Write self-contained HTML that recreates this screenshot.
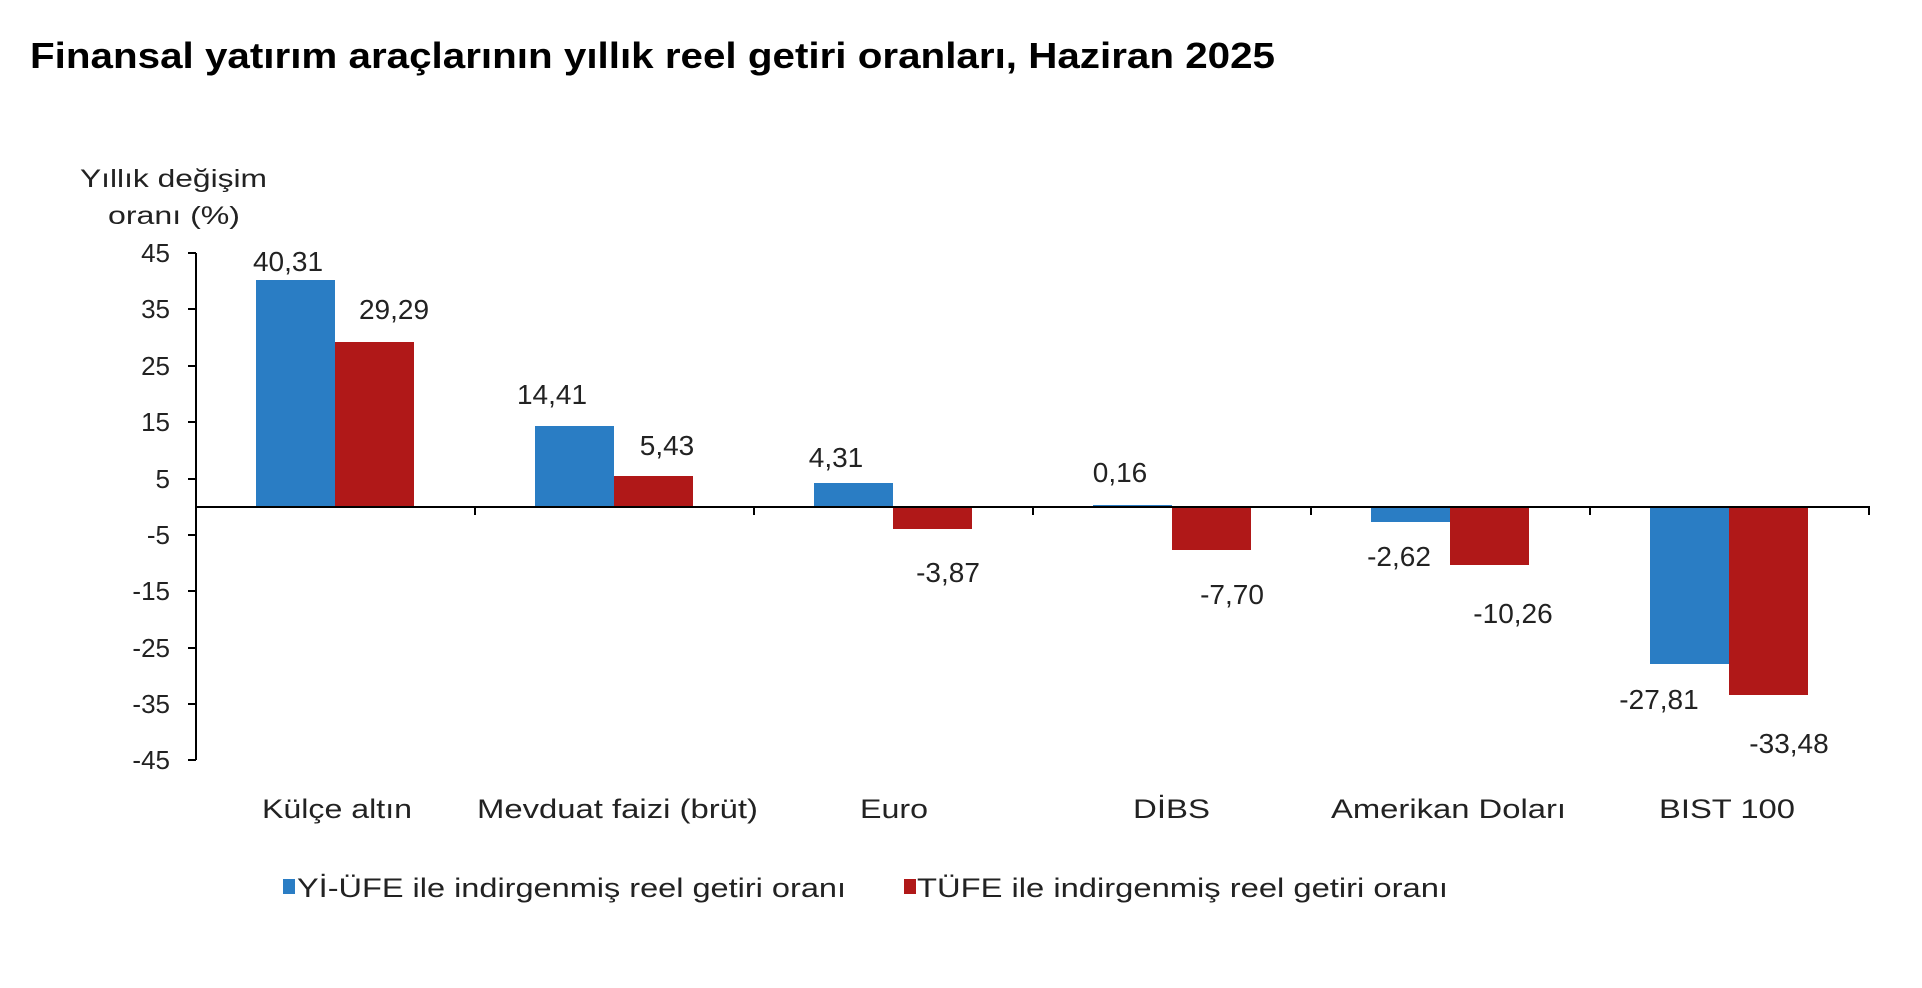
<!DOCTYPE html>
<html><head><meta charset="utf-8"><style>
html,body{margin:0;padding:0;background:#fff;}
svg{display:block;font-family:"Liberation Sans",Arial,sans-serif;}
</style></head><body>
<svg width="1922" height="988" viewBox="0 0 1922 988" xmlns="http://www.w3.org/2000/svg">
<rect width="1922" height="988" fill="#fff"/>
<text x="30" y="68" font-size="36" font-weight="bold" fill="#000" textLength="1245" lengthAdjust="spacingAndGlyphs">Finansal yatırım araçlarının yıllık reel getiri oranları, Haziran 2025</text>
<g fill="#222" font-size="25">
<text x="80" y="187" textLength="187" lengthAdjust="spacingAndGlyphs">Yıllık değişim</text>
<text x="108" y="224" textLength="132" lengthAdjust="spacingAndGlyphs">oranı (%)</text>
</g>
<g>
<rect x="256" y="280" width="79" height="227" fill="#2a7dc4"/>
<rect x="335" y="342" width="79" height="165" fill="#b01818"/>
<rect x="535" y="426" width="79" height="81" fill="#2a7dc4"/>
<rect x="614" y="476" width="79" height="31" fill="#b01818"/>
<rect x="814" y="483" width="79" height="24" fill="#2a7dc4"/>
<rect x="893" y="507" width="79" height="22" fill="#b01818"/>
<rect x="1093" y="505" width="79" height="2" fill="#2a7dc4"/>
<rect x="1172" y="507" width="79" height="43" fill="#b01818"/>
<rect x="1371" y="507" width="79" height="15" fill="#2a7dc4"/>
<rect x="1450" y="507" width="79" height="58" fill="#b01818"/>
<rect x="1650" y="507" width="79" height="157" fill="#2a7dc4"/>
<rect x="1729" y="507" width="79" height="188" fill="#b01818"/>
</g>
<g stroke="#000" stroke-width="2" fill="none">
<line x1="196" y1="253" x2="196" y2="760"/>
<line x1="196" y1="507" x2="1870" y2="507"/>
<line x1="188" y1="253" x2="196" y2="253"/>
<line x1="188" y1="309" x2="196" y2="309"/>
<line x1="188" y1="366" x2="196" y2="366"/>
<line x1="188" y1="422" x2="196" y2="422"/>
<line x1="188" y1="479" x2="196" y2="479"/>
<line x1="188" y1="535" x2="196" y2="535"/>
<line x1="188" y1="591" x2="196" y2="591"/>
<line x1="188" y1="648" x2="196" y2="648"/>
<line x1="188" y1="704" x2="196" y2="704"/>
<line x1="188" y1="760" x2="196" y2="760"/>
<line x1="475" y1="507" x2="475" y2="515"/>
<line x1="754" y1="507" x2="754" y2="515"/>
<line x1="1033" y1="507" x2="1033" y2="515"/>
<line x1="1311" y1="507" x2="1311" y2="515"/>
<line x1="1590" y1="507" x2="1590" y2="515"/>
<line x1="1869" y1="507" x2="1869" y2="515"/>
</g>
<g font-size="26" fill="#222" text-anchor="end">
<text x="170" y="262">45</text>
<text x="170" y="318">35</text>
<text x="170" y="375">25</text>
<text x="170" y="431">15</text>
<text x="170" y="488">5</text>
<text x="170" y="544">-5</text>
<text x="170" y="600">-15</text>
<text x="170" y="657">-25</text>
<text x="170" y="713">-35</text>
<text x="170" y="769">-45</text>
</g>
<g font-size="28" fill="#222" text-anchor="middle">
<text x="288" y="271">40,31</text>
<text x="394" y="319">29,29</text>
<text x="552" y="404">14,41</text>
<text x="667" y="455">5,43</text>
<text x="836" y="467">4,31</text>
<text x="948" y="582">-3,87</text>
<text x="1120" y="482">0,16</text>
<text x="1232" y="604">-7,70</text>
<text x="1399" y="566">-2,62</text>
<text x="1513" y="623">-10,26</text>
<text x="1659" y="709">-27,81</text>
<text x="1789" y="753">-33,48</text>
</g>
<g font-size="27" fill="#222">
<text x="262" y="818" textLength="150" lengthAdjust="spacingAndGlyphs">Külçe altın</text>
<text x="477" y="818" textLength="281" lengthAdjust="spacingAndGlyphs">Mevduat faizi (brüt)</text>
<text x="860" y="818" textLength="68" lengthAdjust="spacingAndGlyphs">Euro</text>
<text x="1133" y="818" textLength="77" lengthAdjust="spacingAndGlyphs">DİBS</text>
<text x="1331" y="818" textLength="235" lengthAdjust="spacingAndGlyphs">Amerikan Doları</text>
<text x="1659" y="818" textLength="136" lengthAdjust="spacingAndGlyphs">BIST 100</text>
</g>
<rect x="283" y="879" width="12" height="15" fill="#2a7dc4"/>
<rect x="904" y="879" width="12" height="15" fill="#b01818"/>
<g font-size="27" fill="#222">
<text x="297" y="897" textLength="549" lengthAdjust="spacingAndGlyphs">Yİ-ÜFE ile indirgenmiş reel getiri oranı</text>
<text x="917" y="897" textLength="531" lengthAdjust="spacingAndGlyphs">TÜFE ile indirgenmiş reel getiri oranı</text>
</g>
</svg>
</body></html>
